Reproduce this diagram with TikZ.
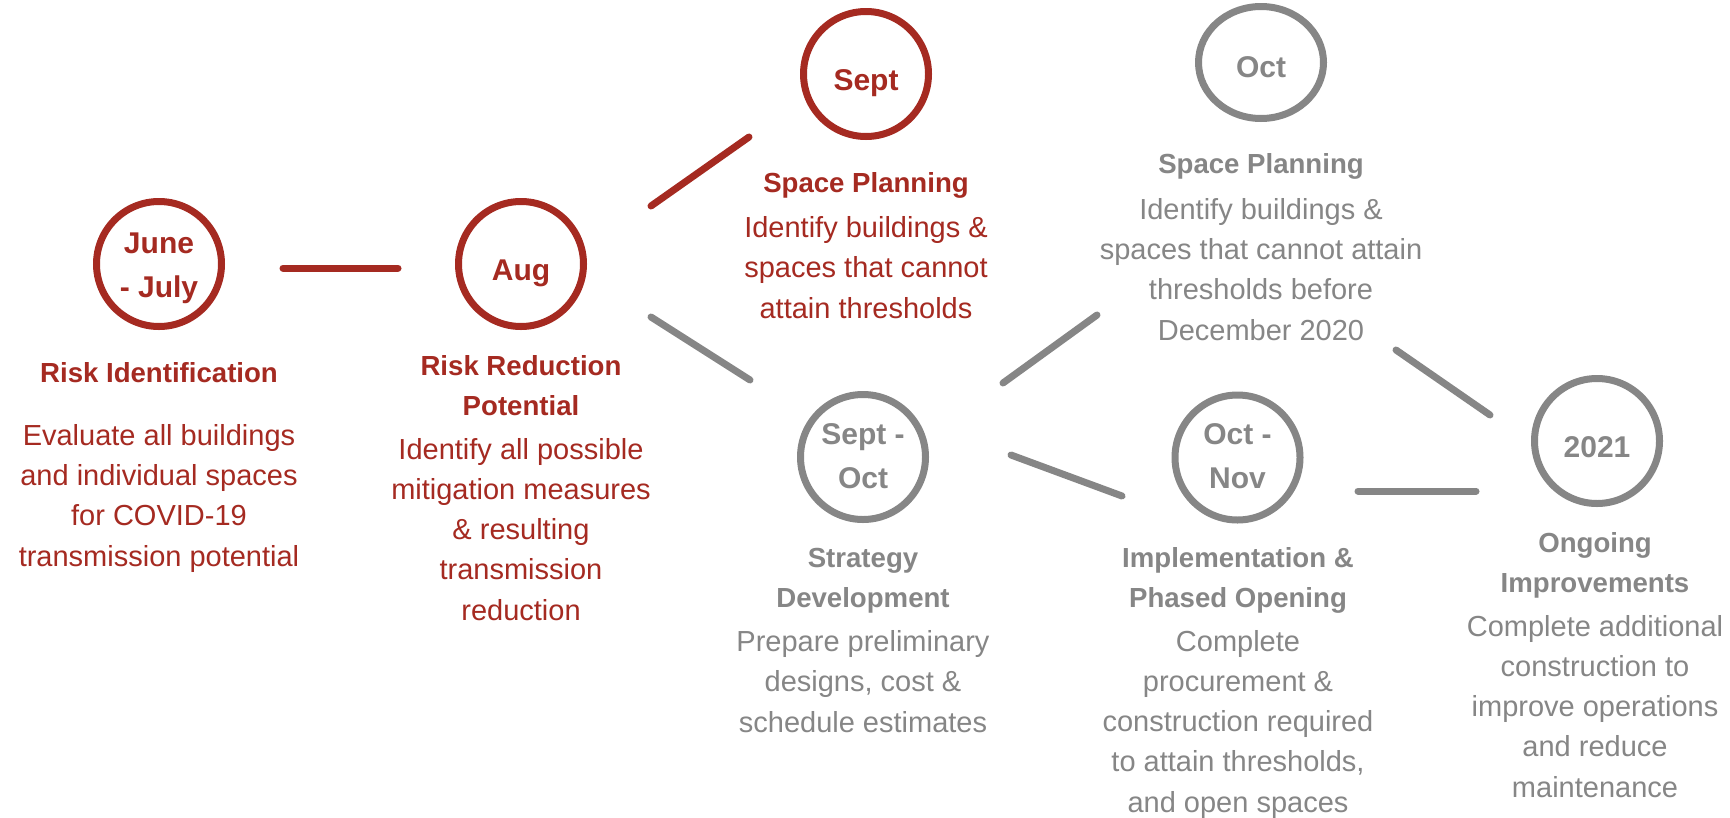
\documentclass[tikz,border=0pt]{standalone}
\usepackage{fontspec}
\setmainfont{Liberation Sans}
\usetikzlibrary{shapes.geometric}
\definecolor{rd}{HTML}{A52A21}
\definecolor{gy}{HTML}{868686}
\begin{document}
\begin{tikzpicture}[x=1pt,y=-1pt,
  ring/.style={circle, draw, line width=7pt, minimum size=125pt, inner sep=0pt},
  oval/.style={ellipse, draw, line width=7pt, minimum width=125pt, minimum height=112pt, inner sep=0pt},
  datelbl/.style={anchor=base, font=\bfseries\fontsize{30}{44}\selectfont, align=center, inner sep=0pt},
  ttl/.style={anchor=base, font=\bfseries\fontsize{27.6}{40}\selectfont, align=center, inner sep=0pt},
  body/.style={anchor=base, font=\fontsize{29}{40.2}\selectfont, align=center, inner sep=0pt},
  link/.style={line width=7pt, line cap=round}]
\useasboundingbox (0,0) rectangle (1730,817);
\fill[white] (0,0) rectangle (1730,817);

% circles
\node[ring, rd] (jj) at (159,264) {};
\node[ring, rd] (aug) at (521,264) {};
\node[ring, rd] (sept) at (866,74) {};
\node[oval, gy] (oct) at (1261,62.5) {};
\node[ring, gy] (so) at (863,457) {};
\node[ring, gy] (on) at (1237.5,457.5) {};
\node[ring, gy] (y21) at (1597,441) {};

% date labels (base = baseline of last line)
\node[datelbl, rd] (jjd) at (159,297) {June\\- July};
\node[datelbl, rd] (augd) at (521,280) {Aug};
\node[datelbl, rd] (septd) at (866,90) {Sept};
\node[datelbl, gy] (octd) at (1261,77) {Oct};
\node[datelbl, gy] (sod) at (863,488) {Sept -\\Oct};
\node[datelbl, gy] (ond) at (1237.5,488) {Oct -\\Nov};
\node[datelbl, gy] (y21d) at (1597,457) {2021};

% titles
\node[ttl, rd] (jjt) at (159,382) {Risk Identification};
\node[ttl, rd] (augt) at (521,415) {Risk Reduction\\Potential};
\node[ttl, rd] (septt) at (866,192) {Space Planning};
\node[ttl, gy] (octt) at (1261,173) {Space Planning};
\node[ttl, gy] (sot) at (863,607) {Strategy\\Development};
\node[ttl, gy] (ont) at (1238,607) {Implementation \&\\Phased Opening};
\node[ttl, gy] (y21t) at (1595,592) {Ongoing\\Improvements};

% bodies
\node[body, rd] (jjb) at (159,566) {Evaluate all buildings\\and individual spaces\\for COVID-19\\transmission potential};
\node[body, rd] (augb) at (521,620) {Identify all possible\\mitigation measures\\\& resulting\\transmission\\reduction};
\node[body, rd] (septb) at (866,318) {Identify buildings \&\\spaces that cannot\\attain thresholds};
\node[body, gy] (octb) at (1261,340) {Identify buildings \&\\spaces that cannot attain\\thresholds before\\December 2020};
\node[body, gy] (sob) at (863,732) {Prepare preliminary\\designs, cost \&\\schedule estimates};
\node[body, gy] (onb) at (1238,812) {Complete\\procurement \&\\construction required\\to attain thresholds,\\and open spaces};
\node[body, gy] (y21b) at (1595,797) {Complete additional\\construction to\\improve operations\\and reduce\\maintenance};

% connector end points
\coordinate (l1a) at (283,268);   \coordinate (l1b) at (398,268);
\coordinate (l2a) at (651,206);   \coordinate (l2b) at (749,137);
\coordinate (l3a) at (651,317);   \coordinate (l3b) at (750,380);
\coordinate (l4a) at (1003,383);  \coordinate (l4b) at (1097,315);
\coordinate (l5a) at (1011,455);  \coordinate (l5b) at (1122,496);
\coordinate (l6a) at (1396,350);  \coordinate (l6b) at (1490,415);
\coordinate (l7a) at (1358,491);  \coordinate (l7b) at (1476,491);

\draw[link, rd] (l1a) -- (l1b);
\draw[link, rd] (l2a) -- (l2b);
\draw[link, gy] (l3a) -- (l3b);
\draw[link, gy] (l4a) -- (l4b);
\draw[link, gy] (l5a) -- (l5b);
\draw[link, gy] (l6a) -- (l6b);
\draw[link, gy] (l7a) -- (l7b);
\end{tikzpicture}
\end{document}
